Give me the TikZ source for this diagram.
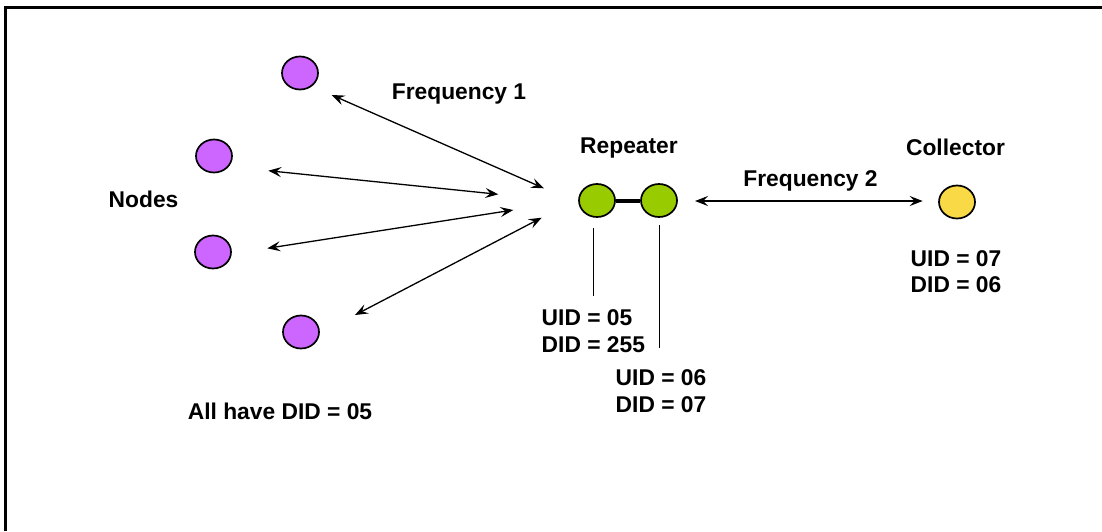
\documentclass[tikz,border=0pt]{standalone}
\usepackage{fontspec}
\setmainfont{Liberation Sans}
\usetikzlibrary{arrows.meta,shapes.geometric}
\definecolor{nodepurple}{HTML}{CC66FF}
\definecolor{repgreen}{HTML}{99CC00}
\definecolor{colyellow}{HTML}{F9D945}
\tikzset{
  dot/.style={ellipse, draw=black, line width=1.7pt, minimum width=36pt, minimum height=33pt, inner sep=0pt},
  lbl/.style={font=\fontsize{22.8}{27}\selectfont\bfseries, inner sep=0pt},
  link/.style={line width=1.3pt, {Stealth[length=13pt,width=10pt,inset=5pt]}-{Stealth[length=13pt,width=10pt,inset=5pt]}},
  lead/.style={line width=1.3pt}
}
\begin{document}
\begin{tikzpicture}[x=1pt,y=-1pt]
\useasboundingbox (0,0) rectangle (1102,531);
% frame
\draw[line width=3.2pt] (5.7,531) -- (5.7,7.2) -- (1102,7.2);
% nodes
\node[dot, fill=nodepurple] (n1) at (300,73) {};
\node[dot, fill=nodepurple] (n2) at (214,156) {};
\node[dot, fill=nodepurple] (n3) at (213,252) {};
\node[dot, fill=nodepurple] (n4) at (301,332) {};
% repeater
\node[dot, fill=repgreen] (r1) at (597,200.5) {};
\node[dot, fill=repgreen] (r2) at (659,200.5) {};
\draw[line width=4pt] (r1) -- (r2);
% collector
\node[dot, fill=colyellow] (c) at (957,202) {};
% arrow endpoints
\coordinate (a1s) at (331.7,95);   \coordinate (a1e) at (544,188.3);
\coordinate (a2s) at (268.3,170.7); \coordinate (a2e) at (498.3,194.3);
\coordinate (a3s) at (267.3,248.3); \coordinate (a3e) at (513.3,210);
\coordinate (a4s) at (355,315);    \coordinate (a4e) at (541.7,217.7);
\coordinate (f2s) at (695,201);    \coordinate (f2e) at (922.7,201);
\draw[link] (a1s) -- (a1e);
\draw[link] (a2s) -- (a2e);
\draw[link] (a3s) -- (a3e);
\draw[link] (a4s) -- (a4e);
\draw[link] (f2s) -- (f2e);
% leaders
\coordinate (l1t) at (593.3,228); \coordinate (l1b) at (593.3,295.7);
\coordinate (l2t) at (659.3,225); \coordinate (l2b) at (659.3,348);
\draw[lead] (l1t) -- (l1b);
\draw[lead] (l2t) -- (l2b);
% labels
\node[lbl, anchor=base] (f1) at (459,99) {Frequency 1};
\node[lbl, anchor=base] (rep) at (629,153) {Repeater};
\node[lbl, anchor=base] (f2) at (810.5,186) {Frequency 2};
\node[lbl, anchor=base] (col) at (955.5,155) {Collector};
\node[lbl, anchor=base west] (nodes) at (108.5,207.7) {Nodes};
\node[lbl, anchor=base] (all) at (280,419) {All have DID = 05};
\node[lbl, anchor=base west] (u5) at (541.5,325) {UID = 05};
\node[lbl, anchor=base west] (d5) at (541.5,352) {DID = 255};
\node[lbl, anchor=base west] (u6) at (615.5,385) {UID = 06};
\node[lbl, anchor=base west] (d6) at (615.5,412) {DID = 07};
\node[lbl, anchor=base west] (u7) at (910.5,266.7) {UID = 07};
\node[lbl, anchor=base west] (d7) at (910.5,292.7) {DID = 06};
\end{tikzpicture}
\end{document}
